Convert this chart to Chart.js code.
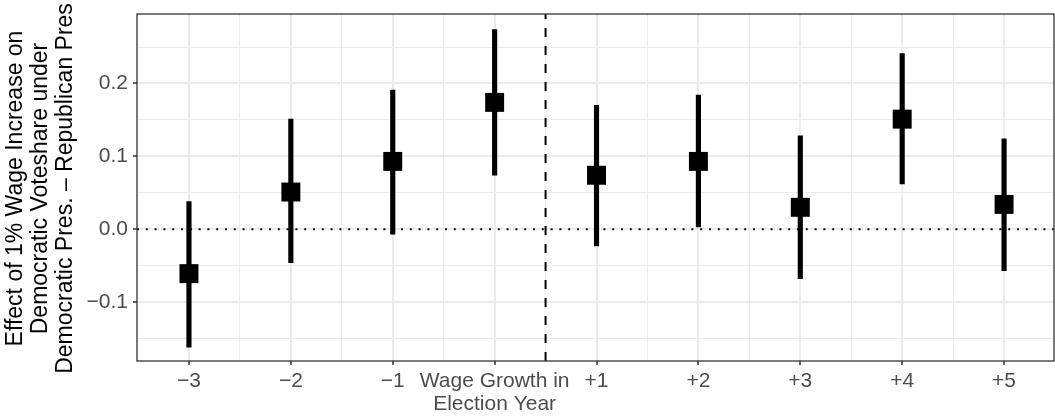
<!DOCTYPE html>
<html>
<head>
<meta charset="utf-8">
<script src="https://cdn.jsdelivr.net/npm/chart.js@4.4.1/dist/chart.umd.min.js"></script>
<style>
  html, body { margin: 0; padding: 0; background: #ffffff; }
  canvas { display: block; }
</style>
</head>
<body>
<canvas id="c" width="1055" height="416"></canvas>
<script>
// ---- data ----
const xValues = [-3, -2, -1, 0, 1, 2, 3, 4, 5];
const xTickLabels = ['\u22123', '\u22122', '\u22121', ['Wage Growth in', 'Election Year'], '+1', '+2', '+3', '+4', '+5'];
const estimates = [-0.061, 0.051, 0.093, 0.174, 0.074, 0.093, 0.030, 0.151, 0.034];
const lowerCI   = [-0.162, -0.046, -0.007, 0.074, -0.023, 0.003, -0.068, 0.062, -0.057];
const upperCI   = [ 0.038,  0.151,  0.191, 0.274,  0.170, 0.184,  0.128, 0.241,  0.124];
const yTickValues = [-0.1, 0.0, 0.1, 0.2];
const yTickLabels = ['\u22120.1', '0.0', '0.1', '0.2'];
const yMinorValues = [-0.15, -0.05, 0.05, 0.15, 0.25];
const xMinorValues = [-2.5, -1.5, -0.5, 0.5, 1.5, 2.5, 3.5, 4.5];
const zeroLineY = 0;
const electionBreakX = 0.5;
const xRange = [-3.51, 5.49];
const yRange = [-0.1809, 0.2953];
const yTitle = ['Effect of 1% Wage Increase on', 'Democratic Voteshare under', 'Democratic Pres. \u2013 Republican Pres'];

const FONT = "'Liberation Sans', Arial, Helvetica, sans-serif";

const errorBars = xValues.map((x, i) => ({ x: x, y: [lowerCI[i], upperCI[i]] }));
const points = xValues.map((x, i) => ({ x: x, y: estimates[i] }));

const panelBorder = {
  id: 'panelBorder',
  afterDraw(chart) {
    const { ctx, chartArea: a } = chart;
    ctx.save();
    ctx.strokeStyle = '#333333';
    ctx.lineWidth = 1.3;
    ctx.strokeRect(a.left, a.top, a.right - a.left, a.bottom - a.top);
    ctx.restore();
  }
};

// multi-line rotated y-axis title (drawn without width compression)
const yAxisTitle = {
  id: 'yAxisTitle',
  afterDraw(chart) {
    const { ctx, chartArea: a } = chart;
    const cy = (a.top + a.bottom) / 2 + 1;
    ctx.save();
    ctx.fillStyle = '#000000';
    ctx.font = '23px ' + FONT;
    ctx.textAlign = 'center';
    ctx.textBaseline = 'alphabetic';
    yTitle.forEach((line, i) => {
      ctx.save();
      ctx.translate(22 + i * 25, cy);
      ctx.rotate(-Math.PI / 2);
      ctx.fillText(line, 0, 0);
      ctx.restore();
    });
    ctx.restore();
  }
};

const isMajor = (c, majors) => !!(c && c.tick) && majors.some(m => Math.abs(m - c.tick.value) < 1e-9);

new Chart(document.getElementById('c'), {
  type: 'bar',
  data: {
    datasets: [
      {
        type: 'line',
        data: [{ x: xRange[0], y: zeroLineY }, { x: xRange[1], y: zeroLineY }],
        borderColor: '#000000',
        borderWidth: 2,
        borderDash: [2, 6.8],
        pointRadius: 0,
        order: 4
      },
      {
        type: 'line',
        data: [{ x: electionBreakX, y: yRange[0] }, { x: electionBreakX, y: yRange[1] }],
        borderColor: '#000000',
        borderWidth: 2,
        borderDash: [9, 9],
        pointRadius: 0,
        order: 3
      },
      {
        type: 'bar',
        data: errorBars,
        backgroundColor: '#000000',
        borderWidth: 0,
        barThickness: 4.5,
        grouped: false,
        order: 2
      },
      {
        type: 'line',
        data: points,
        showLine: false,
        pointStyle: 'rect',
        pointRadius: 13.4,
        pointHoverRadius: 13.4,
        pointBackgroundColor: '#000000',
        pointBorderWidth: 0,
        clip: false,
        order: 1
      }
    ]
  },
  options: {
    responsive: false,
    animation: false,
    events: [],
    layout: { autoPadding: false, padding: { top: 14, right: 1, left: 0, bottom: 0 } },
    plugins: { legend: { display: false }, tooltip: { enabled: false } },
    scales: {
      x: {
        type: 'linear',
        min: xRange[0],
        max: xRange[1],
        offset: false,
        afterBuildTicks(scale) {
          scale.ticks = xValues.concat(xMinorValues).sort((a, b) => a - b).map(v => ({ value: v }));
        },
        afterFit(scale) {
          scale.height = 55;
          scale.paddingLeft = 0;
          scale.paddingRight = 0;
        },
        ticks: {
          autoSkip: false,
          maxRotation: 0,
          minRotation: 0,
          padding: 5,
          color: '#4D4D4D',
          font: { family: FONT, size: 21, lineHeight: 1.08 },
          callback(value) {
            const i = xValues.findIndex(v => Math.abs(v - value) < 1e-9);
            return i >= 0 ? xTickLabels[i] : '';
          }
        },
        grid: {
          offset: false,
          color: '#EBEBEB',
          lineWidth: c => isMajor(c, xValues) ? 2 : 1,
          tickLength: 4,
          tickColor: c => isMajor(c, xValues) ? '#333333' : 'rgba(0,0,0,0)',
          tickWidth: 1.5
        },
        border: { display: false }
      },
      y: {
        type: 'linear',
        min: yRange[0],
        max: yRange[1],
        afterBuildTicks(scale) {
          scale.ticks = yTickValues.concat(yMinorValues).sort((a, b) => a - b).map(v => ({ value: v }));
        },
        afterFit(scale) {
          scale.width = 137;
          scale.paddingTop = 0;
          scale.paddingBottom = 0;
        },
        ticks: {
          padding: 5,
          color: '#4D4D4D',
          font: { family: FONT, size: 21 },
          callback(value) {
            const i = yTickValues.findIndex(v => Math.abs(v - value) < 1e-9);
            return i >= 0 ? yTickLabels[i] : '';
          }
        },
        grid: {
          color: '#EBEBEB',
          lineWidth: c => isMajor(c, yTickValues) ? 2 : 1,
          tickLength: 4,
          tickColor: c => isMajor(c, yTickValues) ? '#333333' : 'rgba(0,0,0,0)',
          tickWidth: 1.5
        },
        border: { display: false },
        title: { display: false }
      }
    }
  },
  plugins: [panelBorder, yAxisTitle]
});
</script>
</body>
</html>
